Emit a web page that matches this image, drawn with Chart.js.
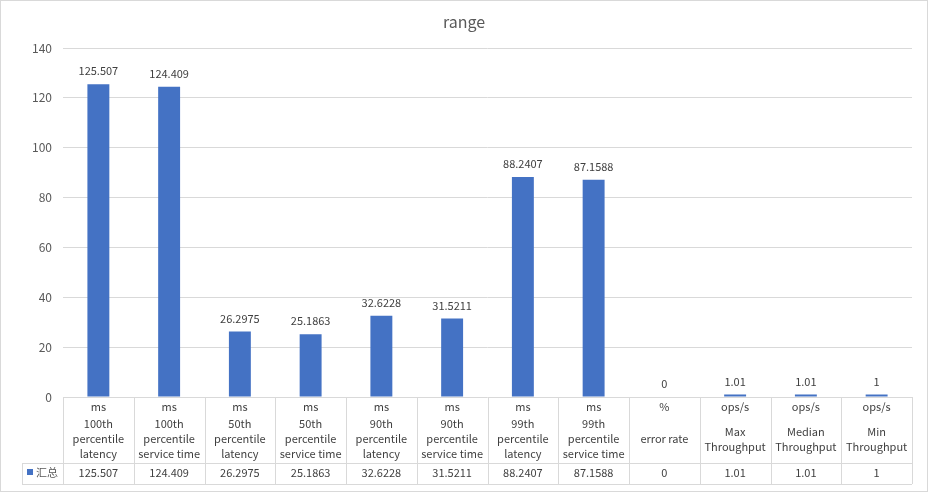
<!DOCTYPE html>
<html>
<head>
<meta charset="utf-8">
<script src="https://cdn.jsdelivr.net/npm/chart.js@4/dist/chart.umd.min.js"></script>
<style>
    html, body { margin: 0; padding: 0; background: #fff; }
    #wrap { width: 928px; height: 492px; }
</style>
</head>
<body>
<div id="wrap"><canvas id="rangeChart" width="928" height="492"></canvas></div>
<script>
    'use strict';

    let units = ['ms', 'ms', 'ms', 'ms', 'ms', 'ms', 'ms', 'ms', '%', 'ops/s', 'ops/s', 'ops/s'];
    let names = [
        ['100th', 'percentile', 'latency'],
        ['100th', 'percentile', 'service time'],
        ['50th', 'percentile', 'latency'],
        ['50th', 'percentile', 'service time'],
        ['90th', 'percentile', 'latency'],
        ['90th', 'percentile', 'service time'],
        ['99th', 'percentile', 'latency'],
        ['99th', 'percentile', 'service time'],
        ['error rate'],
        ['Max', 'Throughput'],
        ['Median', 'Throughput'],
        ['Min', 'Throughput']
    ];
    let values = [125.507, 124.409, 26.2975, 25.1863, 32.6228, 31.5211, 88.2407, 87.1588, 0, 1.01, 1.01, 1];
    let yTicks = [0, 20, 40, 60, 80, 100, 120, 140];
    let seriesName = '汇总';
    let title = 'range';

    let fontFamily = '"Noto Sans CJK SC", "Noto Sans", sans-serif';
    let barColor = '#4472c4';
    let lineColor = '#d9d9d9';

    // title, value labels and the data table under the plot
    let tablePlugin = {
        id: 'tablePlugin',
        afterDraw: function (chart) {
            let ctx = chart.ctx;
            let area = chart.chartArea;
            let x = chart.scales.x;
            let y = chart.scales.y;
            let meta = chart.getDatasetMeta(0);

            ctx.save();

            // outer frame
            ctx.strokeStyle = lineColor;
            ctx.lineWidth = 1;
            ctx.strokeRect(0.5, 0.5, chart.width - 1, chart.height - 1);

            // title
            ctx.fillStyle = '#595959';
            ctx.font = '16px ' + fontFamily;
            ctx.textAlign = 'center';
            ctx.textBaseline = 'middle';
            ctx.fillText(title, chart.width / 2, 22);

            // value labels above bars
            ctx.fillStyle = '#404040';
            ctx.font = '11px ' + fontFamily;
            meta.data.forEach(function (bar, i) {
                ctx.fillText(String(values[i]), bar.x, bar.y - 13);
            });

            // table grid
            let half = (x.getPixelForValue(1) - x.getPixelForValue(0)) / 2;
            let top = y.getPixelForValue(0);
            let rowSplit = top + 66;
            let bottom = top + 87;
            let legendLeft = 22;

            ctx.strokeStyle = lineColor;
            ctx.beginPath();
            for (let i = 0; i <= values.length; i++) {
                let px = Math.round(x.getPixelForValue(0) - half + i * half * 2) + 0.5;
                ctx.moveTo(px, top);
                ctx.lineTo(px, bottom);
            }
            ctx.moveTo(legendLeft + 0.5, rowSplit);
            ctx.lineTo(legendLeft + 0.5, bottom);
            ctx.moveTo(legendLeft, Math.round(rowSplit) + 0.5);
            ctx.lineTo(area.right, Math.round(rowSplit) + 0.5);
            ctx.moveTo(legendLeft, Math.round(bottom) + 0.5);
            ctx.lineTo(area.right, Math.round(bottom) + 0.5);
            ctx.stroke();

            // table text
            ctx.fillStyle = '#404040';
            ctx.font = '11px ' + fontFamily;
            ctx.textAlign = 'center';
            for (let i = 0; i < values.length; i++) {
                let cx = x.getPixelForValue(i);
                ctx.fillText(units[i], cx, top + 10);
                let lines = names[i];
                let start = top + 42 - (lines.length - 1) * 15 / 2;
                lines.forEach(function (line, j) {
                    ctx.fillText(line, cx, start + j * 15);
                });
                ctx.fillText(String(values[i]), cx, rowSplit + 10);
            }

            // legend key in the table
            ctx.fillStyle = barColor;
            ctx.fillRect(27, rowSplit + 6, 6, 6);
            ctx.fillStyle = '#595959';
            ctx.textAlign = 'left';
            ctx.fillText(seriesName, 36, rowSplit + 10);

            ctx.restore();
        }
    };

    let rangeChart = new Chart(document.getElementById('rangeChart'), {
        type: 'bar',
        data: {
            labels: names.map(function (n) { return n.join(' '); }),
            datasets: [
                {
                    label: seriesName,
                    data: values,
                    backgroundColor: barColor,
                    categoryPercentage: 1,
                    barPercentage: 0.31
                }
            ]
        },
        options: {
            responsive: false,
            animation: false,
            layout: {
                padding: { top: 48, right: 16, bottom: 95, left: 0 }
            },
            plugins: {
                legend: { display: false },
                title: { display: false },
                tooltip: { enabled: false }
            },
            scales: {
                x: {
                    display: false
                },
                y: {
                    min: 0,
                    max: 140,
                    afterFit: function (scale) { scale.width = 63; },
                    afterBuildTicks: function (scale) {
                        scale.ticks = yTicks.map(function (v) { return { value: v }; });
                    },
                    border: { display: false },
                    grid: {
                        color: lineColor,
                        drawTicks: false
                    },
                    ticks: {
                        padding: 11,
                        color: '#595959',
                        font: { family: fontFamily, size: 12 }
                    }
                }
            }
        },
        plugins: [tablePlugin]
    });
</script>
</body>
</html>
